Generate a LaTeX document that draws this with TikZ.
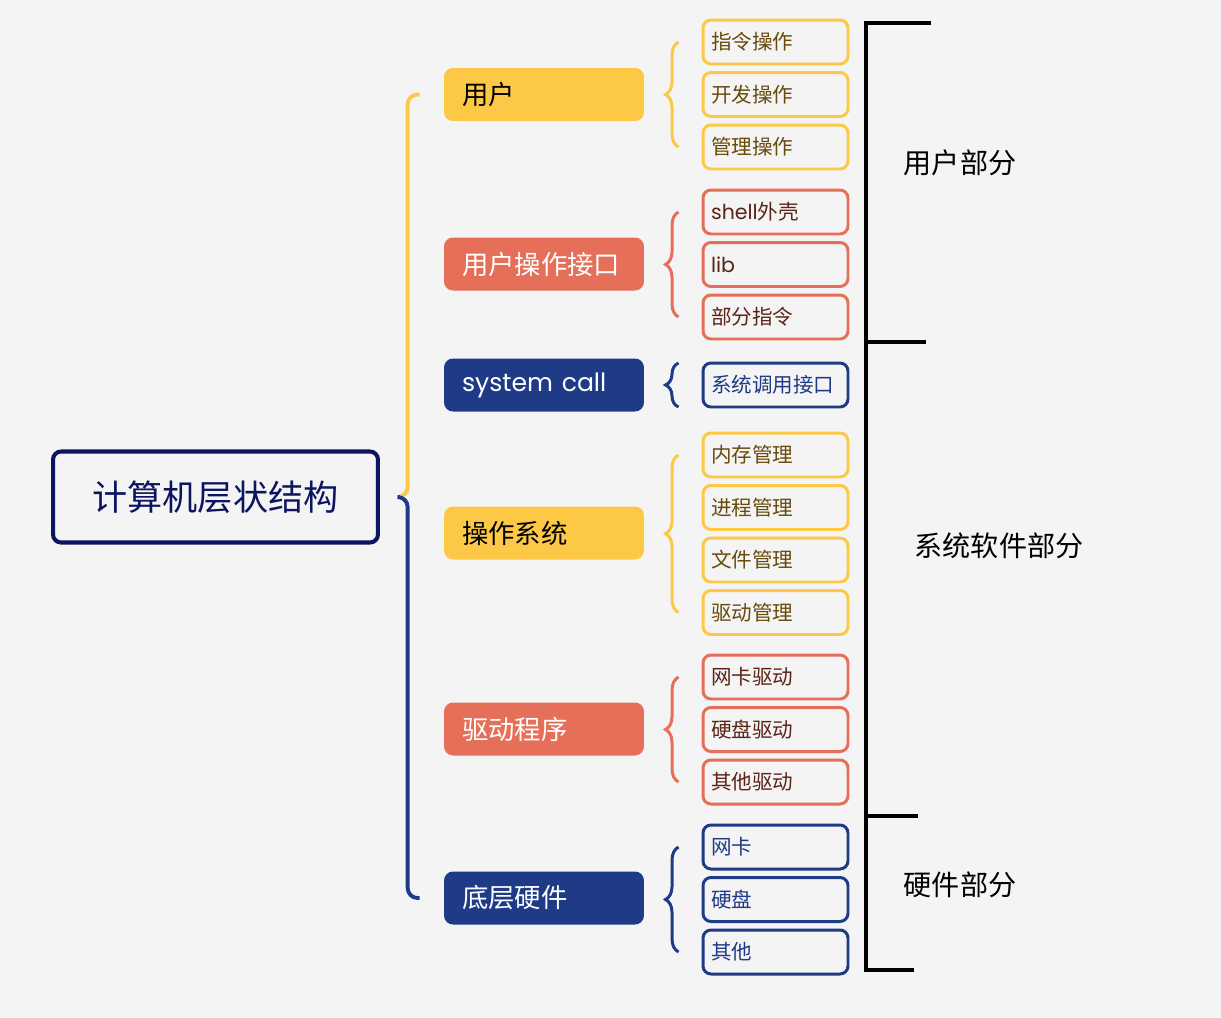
\documentclass[tikz,border=0pt]{standalone}
\usepackage{fontspec}
\setmainfont{Noto Sans CJK SC}
\newfontfamily\lat{Poppins}
\usetikzlibrary{calc,decorations.pathreplacing}
\definecolor{bggray}{RGB}{244,244,244}
\definecolor{mapyellow}{RGB}{254,200,71}
\definecolor{mapsalmon}{RGB}{229,111,89}
\definecolor{mapnavy}{RGB}{31,59,135}
\definecolor{rootnavy}{RGB}{13,20,96}
\definecolor{textbrown}{RGB}{104,74,12}
\definecolor{textmaroon}{RGB}{90,36,24}

\begin{document}
\begin{tikzpicture}[x=0.02cm,y=-0.02cm,
  topic/.style={rectangle,rounded corners=0.18cm,minimum width=4cm,
                minimum height=1.06cm,inner xsep=0.36cm,text width=3.28cm,
                align=left,font=\fontsize{15}{18}\selectfont},
  leaf/.style={rectangle,rounded corners=0.16cm,line width=1.7pt,
               minimum width=2.9cm,minimum height=0.88cm,inner xsep=0.16cm,
               text width=2.58cm,align=left,font=\fontsize{11.7}{14}\selectfont},
  yleaf/.style={leaf,draw=mapyellow,text=textbrown},
  sleaf/.style={leaf,draw=mapsalmon,text=textmaroon},
  nleaf/.style={leaf,draw=mapnavy,text=mapnavy},
  span/.style={decorate,decoration={brace,amplitude=0.26cm},line width=1.7pt},
  trunk/.style={line width=2.2pt,rounded corners=0.2cm},
  part/.style={font=\fontsize{16}{19}\selectfont},
]
% background
\fill[bggray] (0,0) rectangle (1221,1018);
\useasboundingbox (0,0) rectangle (1221,1018);
% root
\node[draw=rootnavy,line width=2.3pt,rounded corners=0.16cm,minimum width=6.5cm,
      minimum height=1.82cm,text=rootnavy,font=\fontsize{20}{24}\selectfont]
      (root) at (215.5,497) {计算机层状结构};
% first level
\node[topic,fill=mapyellow] (u) at (544,94.5) {用户};
\node[topic,fill=mapsalmon,text=white] (ui) at (544,264) {用户操作接口};
\node[topic,fill=mapnavy,text=white] (sc) at (544,385)
    {\lat\fontsize{14.3}{17}\selectfont system call};
\node[topic,fill=mapyellow] (os) at (544,533) {操作系统};
\node[topic,fill=mapsalmon,text=white] (dr) at (544,729) {驱动程序};
\node[topic,fill=mapnavy,text=white] (hw) at (544,898) {底层硬件};
% trunk from root, yellow half and navy half
\draw[trunk,mapyellow] ($(u.west)+(-24,0)$) -- ($(u.west)+(-36,0)$)
    |- ($(root.east)+(20,0)$);
\draw[trunk,mapnavy] ($(root.east)+(20,0)$) -| ($(hw.west)+(-36,0)$)
    -- ($(hw.west)+(-24,0)$);
% leaves
\foreach \t [count=\i] in {指令操作,开发操作,管理操作}
  \node[yleaf] (u\i) at (775.5,42+52.5*\i-52.5) {\t};
\foreach \t [count=\i] in {{\lat shell}外壳,{\lat lib},部分指令}
  \node[sleaf] (ui\i) at (775.5,212+52.5*\i-52.5) {\t};
\node[nleaf] (sc1) at (775.5,385) {系统调用接口};
\foreach \t [count=\i] in {内存管理,进程管理,文件管理,驱动管理}
  \node[yleaf] (os\i) at (775.5,455+52.5*\i-52.5) {\t};
\foreach \t [count=\i] in {网卡驱动,硬盘驱动,其他驱动}
  \node[sleaf] (dr\i) at (775.5,677+52.5*\i-52.5) {\t};
\foreach \t [count=\i] in {网卡,硬盘,其他}
  \node[nleaf] (hw\i) at (775.5,847+52.5*\i-52.5) {\t};
% braces to leaves
\draw[span,mapyellow] ($(u3.west)+(-23,0)$) -- ($(u1.west)+(-23,0)$);
\draw[span,mapsalmon] ($(ui3.west)+(-23,0)$) -- ($(ui1.west)+(-23,0)$);
\draw[span,mapnavy] ($(sc1.west)+(-23,22)$) -- ($(sc1.west)+(-23,-22)$);
\draw[span,mapyellow] ($(os4.west)+(-23,0)$) -- ($(os1.west)+(-23,0)$);
\draw[span,mapsalmon] ($(dr3.west)+(-23,0)$) -- ($(dr1.west)+(-23,0)$);
\draw[span,mapnavy] ($(hw3.west)+(-23,0)$) -- ($(hw1.west)+(-23,0)$);
% right bracket
\draw[line width=2.3pt] (931,23) -- (866,23) -- (866,970) -- (914,970);
\draw[line width=2.3pt] (866,342) -- (926,342);
\draw[line width=2.3pt] (866,816) -- (918,816);
\node[part] (p1) at (960,163) {用户部分};
\node[part] (p2) at (999,546) {系统软件部分};
\node[part] (p3) at (960,885) {硬件部分};
\end{tikzpicture}
\end{document}
